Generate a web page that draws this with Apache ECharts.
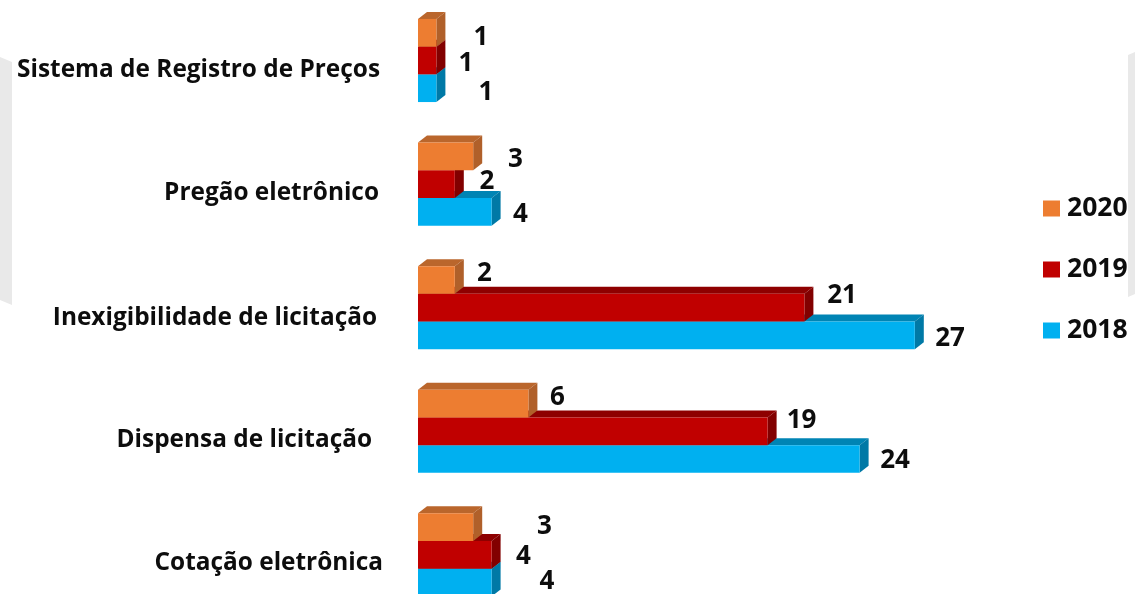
<!DOCTYPE html>
<html><head><meta charset="utf-8">
<style>html,body{margin:0;padding:0;background:#fff}#c{width:1135px;height:594px}</style>
<script src="https://cdn.jsdelivr.net/npm/echarts@6/dist/echarts.min.js"></script>
</head><body><div id="c"></div>
<script>
var categories = ['Sistema de Registro de Preços','Pregão eletrônico','Inexigibilidade de licitação','Dispensa de licitação','Cotação eletrônica'];
var values2020 = [1,3,2,6,3];
var values2019 = [1,2,21,19,4];
var values2018 = [1,4,27,24,4];

// label placement quirks of the original, relative to each bar's end [dx, dy]
var nudge2020 = [[44.6,4.5],[42.3,3],[29.7,-6.5],[29.1,-6.5],[71.3,-0.5]];
var nudge2019 = [[29.6,3.5],[32.2,-3],[37.6,-12],[33.9,-11],[31.9,1.5]];
var nudge2018 = [[49.6,4],[28.9,3],[35.2,3.5],[35.4,1.5],[55.4,-1]];
var catPad = [[20,38],[18,39],[20,41],[18,46],[16,35]];

var FONT = '"Open Sans", sans-serif';
var DEPTH_X = 9, DEPTH_Y = 7, BAR_H = 27.7;

function bar3d(slot, front, side, top, nudge) {
  return function (params, api) {
    var v = api.value(0), c = api.value(1);
    var end = api.coord([v, c]), start = api.coord([0, c]);
    var x0 = start[0], x1 = end[0];
    var yT = end[1] + slot * BAR_H - BAR_H / 2, yB = yT + BAR_H;
    var n = nudge[params.dataIndex];
    return {
      type: 'group',
      children: [
        {type:'polygon', shape:{points:[[x0,yT],[x0+DEPTH_X,yT-DEPTH_Y],[x1+DEPTH_X,yT-DEPTH_Y],[x1,yT]]}, style:{fill:top}},
        {type:'polygon', shape:{points:[[x1,yT],[x1+DEPTH_X,yT-DEPTH_Y],[x1+DEPTH_X,yB-DEPTH_Y],[x1,yB]]}, style:{fill:side}},
        {type:'rect', shape:{x:x0,y:yT,width:x1-x0,height:BAR_H}, style:{fill:front}},
        {type:'text', z2:10, style:{text:String(v), x:x1+n[0], y:end[1]+slot*BAR_H+n[1], align:'center', verticalAlign:'middle',
          font:'bold 26px "Open Sans", sans-serif', fill:'#0d0d0d'}}
      ]
    };
  };
}
function makeSeries(name, vals, slot, z, front, side, top, nudge) {
  return {
    name: name, type: 'custom', z: z, clip: false,
    coordinateSystem: 'cartesian2d',
    encode: {x: 0, y: 1},
    itemStyle: {color: front},
    renderItem: bar3d(slot, front, side, top, nudge),
    data: vals.map(function (v, i) { return [v, i]; })
  };
}
var rich = {};
catPad.forEach(function (p, i) {
  rich['c' + i] = {padding: [p[0], p[1], 0, 0], fontWeight:'bold', fontSize: 24.4, fontFamily: FONT, color: '#0d0d0d'};
});
var chart = echarts.init(document.getElementById('c'), null, {renderer: 'canvas'});
chart.setOption({
  animation: false,
  backgroundColor: '#ffffff',
  graphic: [
    {type:'polygon', silent:true, z:0, shape:{points:[[0,57],[12,62],[12,305],[0,300]]}, style:{fill:'#e9e9e9'}},
    {type:'polygon', silent:true, z:0, shape:{points:[[1128,55],[1135,52],[1135,294],[1128,297]]}, style:{fill:'#e9e9e9'}}
  ],
  grid: {left: 418, top: -1.3, width: 552, height: 618, containLabel: false, outerBoundsMode: 'none'},
  xAxis: {type: 'value', min: 0, max: 30, show: false},
  yAxis: {
    type: 'category', inverse: true, data: categories,
    axisLine: {show: false}, axisTick: {show: false}, splitLine: {show: false},
    axisLabel: {
      margin: 0, interval: 0, rich: rich,
      formatter: function (val, i) { return '{c' + i + '|' + val + '}'; }
    }
  },
  legend: {
    orient: 'vertical', left: 1038, top: 190, itemWidth: 17, itemHeight: 16, itemGap: 34,
    selectedMode: false, icon: 'rect', data: ['2020','2019','2018'],
    textStyle: {fontFamily: FONT, fontWeight: 'bold', fontSize: 26.5, color: '#0d0d0d', padding: [0,0,0,2]}
  },
  series: [
    makeSeries('2020', values2020, -1, 4, '#ED7D31', '#B0602A', '#BA662C', nudge2020),
    makeSeries('2019', values2019, 0, 3, '#C00000', '#820000', '#8E0000', nudge2019),
    makeSeries('2018', values2018, 1, 2, '#00B0F0', '#0079A6', '#0084B4', nudge2018)
  ]
});
</script></body></html>
